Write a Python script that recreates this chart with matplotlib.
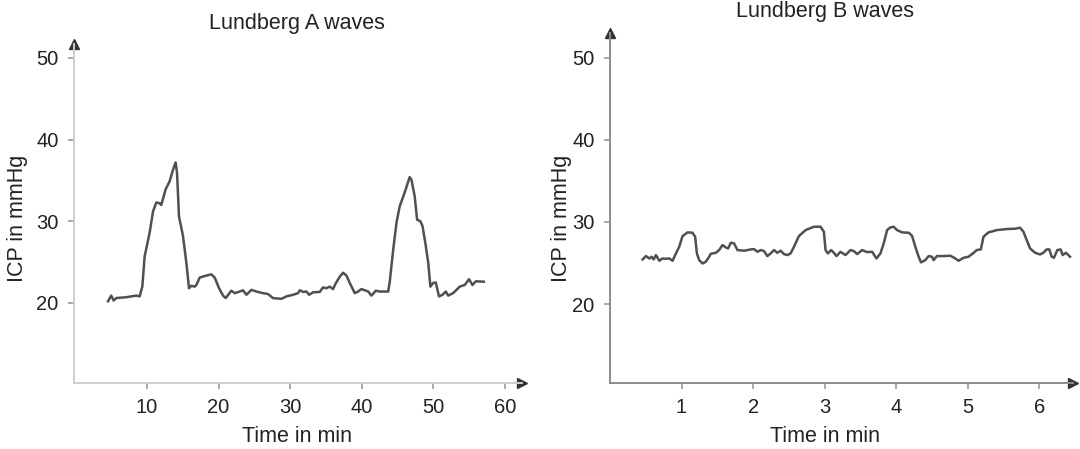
import matplotlib
matplotlib.use("Agg")
import matplotlib.pyplot as plt

plt.rcParams['font.family'] = ['Liberation Sans', 'DejaVu Sans']

# ---- Data: Lundberg A waves (time in min, ICP in mmHg) ----
a_time = [4.55, 5.0, 5.34, 5.71, 7.11, 8.5, 8.97, 9.35, 9.67, 10.37, 10.84, 11.3, 11.77, 12.0,
          12.6, 13.17, 13.63, 14.0, 14.2, 14.47, 15.03, 15.5, 15.87, 16.2, 16.66, 16.9, 17.36,
          18.06, 19.0, 19.46, 20.07, 20.62, 21.0, 21.79, 22.26, 22.95, 23.42, 23.89, 24.59,
          25.28, 26.2, 26.9, 27.6, 28.78, 29.48, 30.41, 31.1, 31.34, 31.8, 32.27, 32.65, 33.2,
          34.14, 34.6, 35.07, 35.54, 36.0, 36.37, 36.93, 37.4, 37.87, 38.33, 39.03, 39.5, 39.96,
          40.43, 40.9, 41.36, 41.97, 42.5, 43.7, 43.9, 44.4, 44.86, 45.3, 46.0, 46.7, 46.95,
          47.4, 47.74, 48.2, 48.5, 48.9, 49.3, 49.6, 49.98, 50.35, 50.8, 51.3, 51.75, 52.08,
          52.78, 53.7, 54.4, 55.0, 55.48, 55.95, 57.06]
a_icp = [20.2, 20.9, 20.3, 20.6, 20.7, 20.9, 20.8, 22.0, 25.7, 28.6, 31.2, 32.3, 32.2, 32.0,
         33.9, 34.9, 36.3, 37.2, 35.9, 30.6, 28.2, 24.9, 21.8, 22.1, 22.0, 22.2, 23.1,
         23.3, 23.5, 23.1, 21.8, 20.9, 20.6, 21.5, 21.2, 21.4, 21.55, 21.0, 21.6,
         21.4, 21.2, 21.1, 20.6, 20.5, 20.8, 21.0, 21.2, 21.55, 21.35, 21.4, 21.0, 21.3,
         21.35, 21.9, 21.8, 22.0, 21.7, 22.4, 23.2, 23.7, 23.35, 22.45, 21.2, 21.4, 21.7,
         21.55, 21.4, 20.9, 21.5, 21.4, 21.4, 22.45, 26.5, 29.8, 31.8, 33.5, 35.4, 35.1,
         33.1, 30.2, 30.0, 29.4, 27.3, 24.9, 22.0, 22.45, 22.5, 20.8, 21.0, 21.4, 20.9,
         21.2, 22.0, 22.2, 22.9, 22.2, 22.65, 22.6]

# ---- Data: Lundberg B waves ----
b_time = [0.456, 0.503, 0.549, 0.582, 0.61, 0.642, 0.689, 0.735, 0.782, 0.828, 0.875, 0.921,
          0.967, 1.014, 1.084, 1.153, 1.19, 1.214, 1.246, 1.293, 1.339, 1.386, 1.409, 1.479,
          1.525, 1.572, 1.618, 1.651, 1.688, 1.734, 1.781, 1.874, 1.967, 2.013, 2.06, 2.106,
          2.152, 2.199, 2.245, 2.292, 2.338, 2.385, 2.431, 2.478, 2.524, 2.571, 2.64, 2.733,
          2.849, 2.942, 2.989, 3.012, 3.045, 3.091, 3.128, 3.165, 3.221, 3.291, 3.361, 3.407,
          3.454, 3.523, 3.593, 3.663, 3.723, 3.779, 3.825, 3.872, 3.918, 3.965, 4.011, 4.081,
          4.174, 4.22, 4.267, 4.313, 4.346, 4.406, 4.453, 4.499, 4.522, 4.569, 4.662, 4.755,
          4.81, 4.871, 4.941, 5.01, 5.071, 5.126, 5.182, 5.219, 5.289, 5.405, 5.545, 5.661,
          5.73, 5.777, 5.823, 5.87, 5.94, 6.009, 6.056, 6.102, 6.139, 6.172, 6.204, 6.251,
          6.297, 6.325, 6.372, 6.428]
b_icp = [25.44, 25.85, 25.56, 25.77, 25.44, 25.97, 25.28, 25.56, 25.52, 25.56, 25.28, 26.17,
         26.98, 28.28, 28.73, 28.69, 28.2, 26.17, 25.36, 24.95, 25.16, 25.77, 26.13, 26.25,
         26.58, 27.19, 26.9, 26.78, 27.47, 27.39, 26.58, 26.5, 26.66, 26.7, 26.37, 26.58,
         26.46, 25.85, 26.17, 26.58, 26.25, 26.5, 26.09, 25.97, 26.17, 26.98, 28.28, 29.01,
         29.42, 29.42, 28.81, 26.58, 26.17, 26.58, 26.25, 25.85, 26.37, 25.97, 26.58, 26.46,
         26.09, 26.58, 26.33, 26.37, 25.56, 26.17, 27.39, 29.01, 29.34, 29.42, 29.01, 28.73,
         28.69, 28.32, 26.98, 25.77, 25.08, 25.36, 25.85, 25.77, 25.36, 25.85, 25.85, 25.89,
         25.64, 25.28, 25.64, 25.77, 26.17, 26.58, 26.66, 28.2, 28.73, 29.01, 29.14, 29.18,
         29.3, 28.81, 27.8, 26.78, 26.25, 26.05, 26.25, 26.66, 26.66, 25.77, 25.64, 26.58,
         26.66, 25.97, 26.25, 25.77]

a_xticks = [10, 20, 30, 40, 50, 60]
b_xticks = [1, 2, 3, 4, 5, 6]
yticks = [20, 30, 40, 50]

titles = ["Lundberg A waves", "Lundberg B waves"]
xlabel = "Time in min"
ylabel = "ICP in mmHg"

W, H = 1080, 449
fig = plt.figure(figsize=(W / 100, H / 100), dpi=100)

FS_TICK = 14.5
FS_LAB = 15.5
line_color = "#505050"
text_color = "#222222"


def setup(ax, spine_color, xlim, ylim, xticks):
    ax.set_xlim(*xlim)
    ax.set_ylim(*ylim)
    for s in ["top", "right"]:
        ax.spines[s].set_visible(False)
    for s in ["left", "bottom"]:
        ax.spines[s].set_color(spine_color)
        ax.spines[s].set_linewidth(1.4)
    ax.set_xticks(xticks)
    ax.set_yticks(yticks)
    ax.tick_params(axis="both", colors="#999999", labelcolor=text_color,
                   length=4.5, width=1.2, labelsize=FS_TICK)
    ax.tick_params(axis="x", pad=6.5)
    ax.tick_params(axis="y", pad=6.5)
    ax.plot(1, 0, ">", color="#333333", markersize=7, transform=ax.transAxes, clip_on=False)
    ax.plot(0, 1, "^", color="#333333", markersize=7, transform=ax.transAxes, clip_on=False)


# Left panel
ax1 = fig.add_axes([74 / W, 1 - 383 / H, 448 / W, (383 - 44) / H])
ax1.plot(a_time, a_icp, color=line_color, linewidth=1.8)
setup(ax1, "#cfcfcf", (-0.2, 62.4), (10.2, 51.7), a_xticks)

# Right panel
ax2 = fig.add_axes([610 / W, 1 - 383 / H, 463 / W, (383 - 33) / H])
ax2.plot(b_time, b_icp, color=line_color, linewidth=1.8)
setup(ax2, "#8c8c8c", (0.0, 6.47), (10.4, 53.0), b_xticks)

# Text
fig.text(297 / W, 1 - 23 / H, titles[0], ha="center", va="center", fontsize=FS_LAB, color=text_color)
fig.text(825 / W, 1 - 11 / H, titles[1], ha="center", va="center", fontsize=FS_LAB, color=text_color)
fig.text(297 / W, 1 - 437 / H, xlabel, ha="center", va="center", fontsize=FS_LAB, color=text_color)
fig.text(825 / W, 1 - 437 / H, xlabel, ha="center", va="center", fontsize=FS_LAB, color=text_color)
fig.text(18 / W, 1 - 218 / H, ylabel, ha="center", va="center", rotation=90, fontsize=FS_LAB, color=text_color)
fig.text(561 / W, 1 - 218 / H, ylabel, ha="center", va="center", rotation=90, fontsize=FS_LAB, color=text_color)

fig.savefig("out.png", dpi=100)
